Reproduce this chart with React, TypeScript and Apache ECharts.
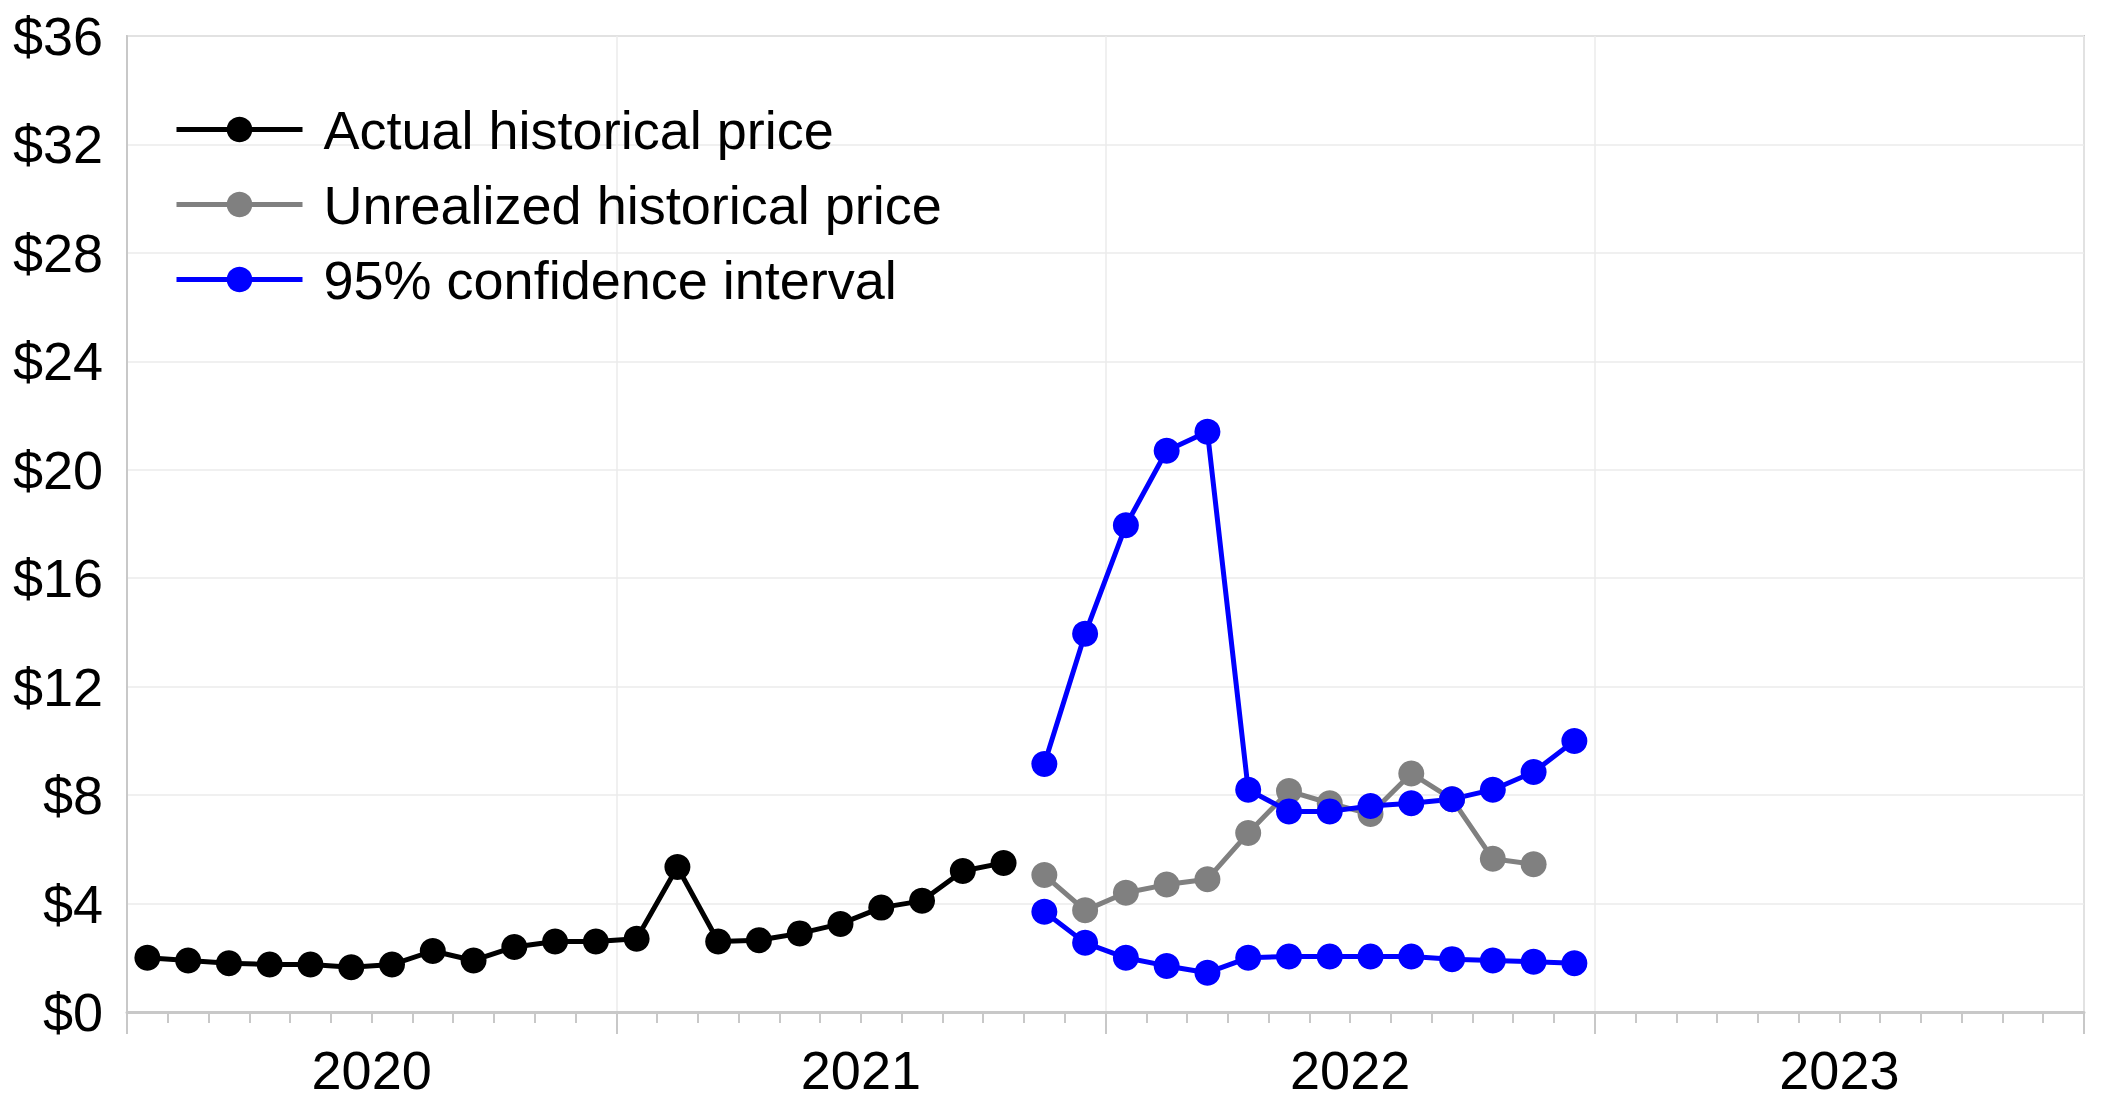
import React, { useEffect, useRef } from "react";
import * as echarts from "echarts";

const years = ["2020", "2021", "2022", "2023"];
const yTicks = [0, 4, 8, 12, 16, 20, 24, 28, 32, 36];

// Months counted from Jan 2020 (index 0)
const actualStart = 0; // Jan 2020
const actualValues = [2.0, 1.9, 1.8, 1.75, 1.75, 1.65, 1.75, 2.25, 1.9, 2.4, 2.6, 2.6, 2.7, 5.35, 2.6, 2.65, 2.9, 3.25, 3.85, 4.1, 5.2, 5.5];

const unrealizedStart = 22; // Nov 2021
const unrealizedValues = [5.05, 3.75, 4.4, 4.7, 4.9, 6.6, 8.15, 7.7, 7.3, 8.8, 7.85, 5.65, 5.45];

const ciStart = 22; // Nov 2021
const ciUpperValues = [9.15, 13.95, 17.95, 20.7, 21.4, 8.2, 7.4, 7.4, 7.6, 7.7, 7.85, 8.2, 8.85, 10.0];
const ciLowerValues = [3.7, 2.55, 2.0, 1.7, 1.45, 2.0, 2.05, 2.05, 2.05, 2.05, 1.95, 1.9, 1.85, 1.8];

const toPoints = (start: number, values: number[]) => values.map((v, i) => [start + i + 0.5, v]);

const FONT = "'Liberation Sans', Arial, sans-serif";

export default function App() {
  const ref = useRef<HTMLDivElement>(null);
  useEffect(() => {
    document.body.style.margin = "0";
    const chart = echarts.init(ref.current!, null, { renderer: "svg" });
    const lineSeries = (name: string, color: string, data: number[][]) => ({
      name,
      type: "line",
      xAxisIndex: 0,
      data,
      symbol: "circle",
      symbolSize: 26,
      showSymbol: true,
      itemStyle: { color },
      lineStyle: { color, width: 5 },
      z: 3,
    });
    chart.setOption({
      animation: false,
      backgroundColor: "#fff",
      textStyle: { fontFamily: FONT },
      grid: {
        left: 127,
        right: 17,
        top: 36,
        bottom: 87,
        show: true,
        borderColor: "#c8c8c8",
        borderWidth: 2,
        backgroundColor: "transparent",
      },
      legend: {
        orient: "vertical",
        left: 169,
        top: 95,
        itemWidth: 126,
        itemHeight: 32,
        itemGap: 16,
        lineStyle: { width: 5 },
        data: ["Actual historical price", "Unrealized historical price", "95% confidence interval"],
        textStyle: { fontSize: 54, color: "#000", fontFamily: FONT, padding: [0, 0, 0, 16], lineHeight: 59 },
      },
      xAxis: [
        {
          type: "value",
          min: 0,
          max: 48,
          interval: 12,
          axisLine: { show: true, lineStyle: { color: "#c8c8c8", width: 3 } },
          axisTick: { show: true, length: 22, lineStyle: { color: "#c8c8c8", width: 2 } },
          minorTick: { show: true, splitNumber: 12, length: 11, lineStyle: { color: "#c8c8c8", width: 2 } },
          axisLabel: { show: false },
          splitLine: { show: true, lineStyle: { color: "#ebebeb", width: 1.5 } },
        },
        {
          type: "category",
          position: "bottom",
          data: years,
          boundaryGap: true,
          axisLine: { show: false },
          axisTick: { show: false },
          splitLine: { show: false },
          axisLabel: { fontSize: 54, color: "#000", fontFamily: FONT, margin: 31 },
        },
      ],
      yAxis: {
        type: "value",
        min: yTicks[0],
        max: yTicks[yTicks.length - 1],
        interval: 4,
        axisLine: { show: true, lineStyle: { color: "#c8c8c8", width: 2 } },
        axisTick: { show: false },
        axisLabel: {
          fontSize: 54,
          color: "#000",
          fontFamily: FONT,
          margin: 24,
          formatter: (v: number) => "$" + v,
        },
        splitLine: { show: true, lineStyle: { color: "#ebebeb", width: 1.5 } },
      },
      series: [
        lineSeries("Actual historical price", "#000000", toPoints(actualStart, actualValues)),
        lineSeries("Unrealized historical price", "#808080", toPoints(unrealizedStart, unrealizedValues)),
        lineSeries("95% confidence interval", "#0000ff", toPoints(ciStart, ciUpperValues)),
        lineSeries("95% confidence interval", "#0000ff", toPoints(ciStart, ciLowerValues)),
      ],
    });
    return () => chart.dispose();
  }, []);
  return <div ref={ref} style={{ width: 2101, height: 1099 }} />;
}
